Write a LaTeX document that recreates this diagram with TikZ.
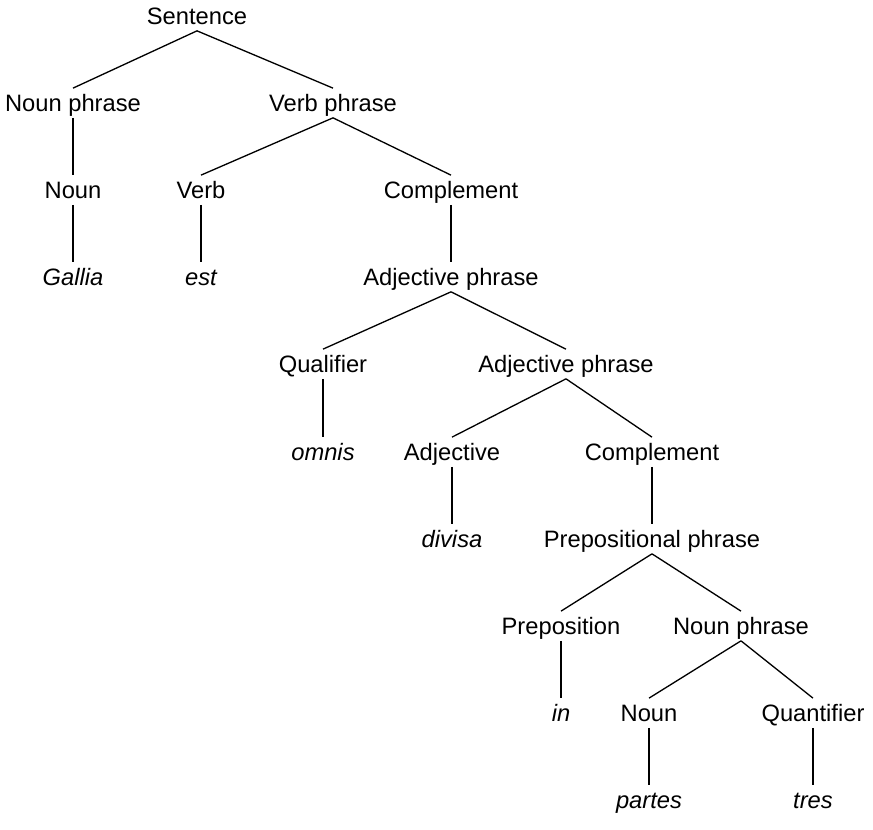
\documentclass[tikz,border=0pt]{standalone}
\usepackage{fontspec}
\setmainfont{Liberation Sans}
\usepackage{tikz}
\usetikzlibrary{positioning}

\begin{document}
\begin{tikzpicture}[
    x=0.02cm, y=-0.02cm,
    word/.style={inner xsep=2pt, inner ysep=0.12cm, text height=0.34cm, text depth=0pt,
        font=\fontsize{13.5}{16}\selectfont},
    leaf/.style={word, font=\fontsize{13.5}{16}\selectfont\itshape},
    branch/.style={line width=0.75pt},
]
\useasboundingbox (0,0) rectangle (873,830);

% Sentence level
\node[word] (S) at (197,16) {Sentence};
\node[word] (NP1) at (73,103) {Noun phrase};
\node[word] (VP) at (333,103) {Verb phrase};

% Subject and verb
\node[word] (N1) at (73,190) {Noun};
\node[word] (V) at (201,190) {Verb};
\node[word] (C1) at (451,190) {Complement};
\node[leaf] (gallia) at (73,277) {Gallia};
\node[leaf] (est) at (201,277) {est};
\node[word] (AP1) at (451,277) {Adjective phrase};

% Adjective phrases
\node[word] (Q) at (323,364) {Qualifier};
\node[word] (AP2) at (566,364) {Adjective phrase};
\node[leaf] (omnis) at (323,452) {omnis};
\node[word] (A) at (452,452) {Adjective};
\node[word] (C2) at (652,452) {Complement};
\node[leaf] (divisa) at (452,539) {divisa};
\node[word] (PP) at (652,539) {Prepositional phrase};

% Prepositional phrase
\node[word] (P) at (561,626) {Preposition};
\node[word] (NP2) at (741,626) {Noun phrase};
\node[leaf] (in) at (561,713) {in};
\node[word] (N2) at (649,713) {Noun};
\node[word] (QT) at (813,713) {Quantifier};
\node[leaf] (partes) at (649,800) {partes};
\node[leaf] (tres) at (813,800) {tres};

% Branches
\foreach \a/\b in {S/NP1, S/VP, NP1/N1, N1/gallia, VP/V, VP/C1, V/est, C1/AP1,
    AP1/Q, AP1/AP2, Q/omnis, AP2/A, AP2/C2, A/divisa, C2/PP,
    PP/P, PP/NP2, P/in, NP2/N2, NP2/QT, N2/partes, QT/tres}
    \draw[branch] (\a.south) -- (\b.north);

\end{tikzpicture}
\end{document}
